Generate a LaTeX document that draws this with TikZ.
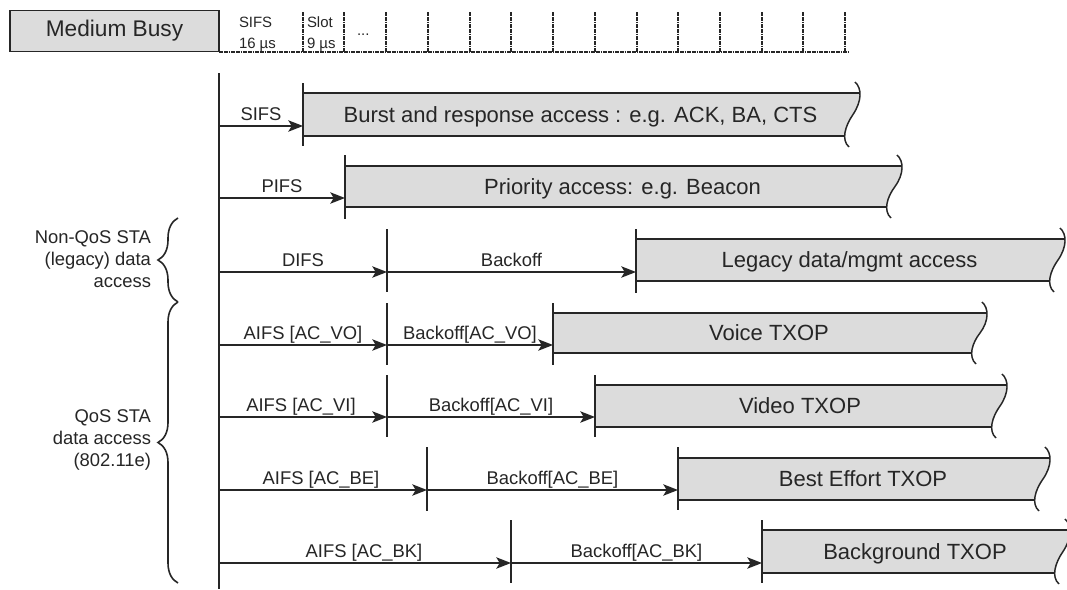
\documentclass[tikz,border=0pt]{standalone}
\usepackage{fontspec}
\setmainfont{Liberation Sans}
\usetikzlibrary{arrows.meta,decorations.pathreplacing}

\definecolor{ink}{HTML}{262626}
\definecolor{boxgray}{HTML}{DCDCDC}

% TXOP bar: #1 name, #2 left x, #3 right x, #4 top y, #5 bottom y, #6 text
\newcommand{\txopbar}[6]{%
  \fill[boxgray] (#2,#4) -- ({#3+2},#4)
    .. controls ({#3+3},{#4+7}) .. ({#3-5},{(#4+#5)/2})
    .. controls ({#3-12},{#5-7}) .. ({#3-13},#5) -- (#2,#5) -- cycle;
  \draw[barline] (#2,#4) -- ({#3+2},#4);
  \draw[barline] (#2,#5) -- ({#3-13},#5);
  \draw[wave] ({#3-3},{#4-11}) .. controls ({#3+4},{#4-5}) and ({#3+4},{#4+8}) .. ({#3-5},{(#4+#5)/2})
    .. controls ({#3-13},{#5-10}) and ({#3-17},{#5+4}) .. ({#3-9},{#5+11});
  \node[bartxt] (#1) at ({(#2+#3)/2},{(#4+#5)/2+7.5}) {#6};
}

\begin{document}
\begin{tikzpicture}[x=0.75pt, y=-0.75pt,
  every node/.style={inner sep=0pt, outer sep=0pt, text=ink},
  barline/.style={draw=ink, line width=1.4pt},
  wave/.style={draw=ink, line width=1.1pt},
  tickline/.style={draw=ink, line width=1.1pt},
  axis/.style={draw=ink, line width=1.4pt},
  dotline/.style={draw=ink, line width=1.5pt, dash pattern=on 1.3pt off 0.5pt},
  arr/.style={draw=ink, line width=1.2pt, -{Stealth[length=11pt,width=8.5pt,inset=2.5pt]}},
  lbl/.style={font=\fontsize{13.8}{16.5}\selectfont, anchor=base},
  bartxt/.style={font=\fontsize{16.5}{19}\selectfont, anchor=base},
  small/.style={font=\fontsize{11.2}{13}\selectfont, anchor=base west},
  side/.style={font=\fontsize{13.8}{16.5}\selectfont, align=right, anchor=east},
  bracestyle/.style={draw=ink, line width=1.2pt, decorate, decoration={brace, amplitude=15pt}}
]
\useasboundingbox (0,0) rectangle (1067,589);
\fill[white] (0,0) rectangle (1067,589);

% ---------- slot scale on top ----------
\node[draw=ink, line width=1.4pt, fill=boxgray, minimum width=156.75pt, minimum height=30.75pt,
      anchor=north west, font=\fontsize{17}{20}\selectfont] (busy) at (10,10.5) {Medium Busy};
\coordinate (scaleEnd) at (848,51.5);
\draw[dotline] (busy.south east) -- (scaleEnd);
\foreach \x in {303,344,386,428,470,511,553,595,637,678,720,762,803,845}
  \draw[dotline] (\x,12) -- (\x,51.5);
\node[small] (sifsA) at (239,27) {SIFS};
\node[small] (sifsB) at (239,48) {16 µs};
\node[small] (slotA) at (307,27) {Slot};
\node[small] (slotB) at (307,48) {9 µs};
\node[small] (more) at (357,35) {...};

% ---------- common time origin ----------
\coordinate (axTop) at (219,73);
\coordinate (axBot) at (219,589);
\draw[axis] (axTop) -- (axBot);

% ---------- row 1: SIFS ----------
\txopbar{burst}{303}{858}{93}{136}{Burst and response access : e.g. ACK, BA, CTS}
\draw[tickline] (303,83) -- (303,146);
\coordinate (o1) at (219,126); \coordinate (e1) at (303,126);
\draw[arr] (o1) -- (e1);
\node[lbl] (sifsL) at (261,120) {SIFS};

% ---------- row 2: PIFS ----------
\txopbar{prio}{345}{900}{166}{207}{Priority access: e.g. Beacon}
\draw[tickline] (345,155) -- (345,219);
\coordinate (o2) at (219,198); \coordinate (e2) at (345,198);
\draw[arr] (o2) -- (e2);
\node[lbl] (pifsL) at (282,192) {PIFS};

% ---------- row 3: DIFS + backoff ----------
\txopbar{legacy}{636}{1063}{239}{281}{Legacy data/mgmt access}
\draw[tickline] (387,229) -- (387,292);
\draw[tickline] (636,229) -- (636,293);
\coordinate (o3) at (219,272); \coordinate (m3) at (387,272); \coordinate (e3) at (636,272);
\draw[arr] (o3) -- (m3);
\draw[arr] (m3) -- (e3);
\node[lbl] (difsL) at (303,266) {DIFS};
\node[lbl] (boL) at (511.5,266) {Backoff};

% ---------- row 4: AC_VO ----------
\txopbar{voice}{553}{985}{313}{353}{Voice TXOP}
\draw[tickline] (387,303) -- (387,365);
\draw[tickline] (553,303) -- (553,365);
\coordinate (o4) at (219,345); \coordinate (m4) at (387,345); \coordinate (e4) at (553,345);
\draw[arr] (o4) -- (m4);
\draw[arr] (m4) -- (e4);
\node[lbl] (aifsVO) at (303,339) {AIFS [AC\_VO]};
\node[lbl] (boVO) at (470,339) {Backoff[AC\_VO]};

% ---------- row 5: AC_VI ----------
\txopbar{video}{595}{1005}{385}{427}{Video TXOP}
\draw[tickline] (387,375) -- (387,437);
\draw[tickline] (595,375) -- (595,437);
\coordinate (o5) at (219,417); \coordinate (m5) at (387,417); \coordinate (e5) at (595,417);
\draw[arr] (o5) -- (m5);
\draw[arr] (m5) -- (e5);
\node[lbl] (aifsVI) at (301,411) {AIFS [AC\_VI]};
\node[lbl] (boVI) at (491,411) {Backoff[AC\_VI]};

% ---------- row 6: AC_BE ----------
\txopbar{besteff}{678}{1048}{458}{500}{Best Effort TXOP}
\draw[tickline] (427,447) -- (427,511);
\draw[tickline] (678,447) -- (678,510);
\coordinate (o6) at (219,490); \coordinate (m6) at (427,490); \coordinate (e6) at (678,490);
\draw[arr] (o6) -- (m6);
\draw[arr] (m6) -- (e6);
\node[lbl] (aifsBE) at (321,484) {AIFS [AC\_BE]};
\node[lbl] (boBE) at (552.5,484) {Backoff[AC\_BE]};

% ---------- row 7: AC_BK ----------
\txopbar{backgr}{762}{1068}{530}{573}{Background TXOP}
\draw[tickline] (511,520) -- (511,583);
\draw[tickline] (762,520) -- (762,583);
\coordinate (o7) at (219,563); \coordinate (m7) at (511,563); \coordinate (e7) at (762,563);
\draw[arr] (o7) -- (m7);
\draw[arr] (m7) -- (e7);
\node[lbl] (aifsBK) at (364,557) {AIFS [AC\_BK]};
\node[lbl] (boBK) at (636.5,557) {Backoff[AC\_BK]};

% ---------- station classes ----------
\coordinate (brTop) at (178,218);
\coordinate (brMid) at (178,302);
\coordinate (brBot) at (178,583);
\draw[bracestyle] (brMid) -- (brTop);
\draw[bracestyle] (brBot) -- (brMid);
\node[side] (legacyTxt) at (151,259) {Non-QoS STA\\(legacy) data\\access};
\node[side] (qosTxt) at (151,440) {QoS STA\\data access\\(802.11e)};
\end{tikzpicture}
\end{document}
